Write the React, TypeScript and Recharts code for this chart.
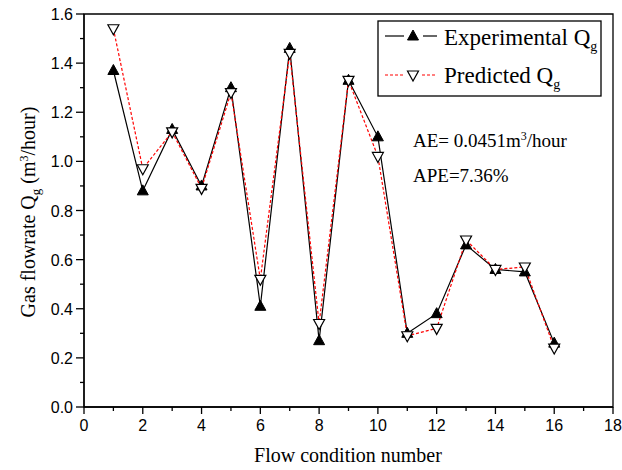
import React from 'react';
import { LineChart, Line, XAxis, YAxis, ReferenceArea } from 'recharts';

// values
const flowCondition = [1, 2, 3, 4, 5, 6, 7, 8, 9, 10, 11, 12, 13, 14, 15, 16];
const experimentalQg = [1.37, 0.88, 1.13, 0.9, 1.3, 0.41, 1.46, 0.27, 1.33, 1.1, 0.3, 0.38, 0.66, 0.56, 0.55, 0.26];
const predictedQg = [1.54, 0.97, 1.12, 0.89, 1.28, 0.52, 1.44, 0.34, 1.33, 1.02, 0.29, 0.32, 0.68, 0.56, 0.57, 0.24];

// labelled ticks and the unlabelled minor ticks between them
const xMajorTicks = [0, 2, 4, 6, 8, 10, 12, 14, 16, 18];
const xMinorTicks = [1, 3, 5, 7, 9, 11, 13, 15, 17];
const yMajorTicks = [0, 0.2, 0.4, 0.6, 0.8, 1.0, 1.2, 1.4, 1.6];
const yMinorTicks = [0.1, 0.3, 0.5, 0.7, 0.9, 1.1, 1.3, 1.5];

const data = flowCondition.map((n, i) => ({
  n,
  exp: experimentalQg[i],
  pred: predictedQg[i],
}));

const SERIF = '"Liberation Serif", "Times New Roman", serif';
const SANS = '"Liberation Sans", Arial, sans-serif';
const axisStyle = { stroke: '#000', strokeWidth: 1.3 };

const isIn = (arr: number[], v: number) => arr.some(a => Math.abs(a - v) < 1e-6);

// tickSize/tickMargin are 0, so x/y arrive on the axis line itself
const XTick = (p: any) => {
  const major = isIn(xMajorTicks, p.payload.value);
  return (
    <g>
      <line x1={p.x} y1={p.y} x2={p.x} y2={p.y + (major ? 7 : 4)} stroke="#000" strokeWidth={1.3} />
      {major && (
        <text x={p.x} y={p.y + 24} textAnchor="middle" fontFamily={SANS} fontSize={16} fill="#000">
          {p.payload.value}
        </text>
      )}
    </g>
  );
};

const YTick = (p: any) => {
  const major = isIn(yMajorTicks, p.payload.value);
  return (
    <g>
      <line x1={p.x} y1={p.y} x2={p.x - (major ? 8 : 4)} y2={p.y} stroke="#000" strokeWidth={1.3} />
      {major && (
        <text x={p.x - 11} y={p.y + 6} textAnchor="end" fontFamily={SANS} fontSize={16} fill="#000">
          {Number(p.payload.value).toFixed(1)}
        </text>
      )}
    </g>
  );
};

const TriUp = ({ cx, cy }: { cx: number; cy: number }) => (
  <polygon points={`${cx},${cy - 6} ${cx - 5.5},${cy + 4} ${cx + 5.5},${cy + 4}`} fill="#000" stroke="#000" strokeWidth={1} />
);

const TriDown = ({ cx, cy }: { cx: number; cy: number }) => (
  <polygon points={`${cx - 5.5},${cy - 4} ${cx + 5.5},${cy - 4} ${cx},${cy + 6}`} fill="#fff" stroke="#000" strokeWidth={1.2} />
);

const App: React.FC = () => {
  return (
    <div style={{ position: 'absolute', left: 0, top: 0, width: 622, height: 470, background: '#fff' }}>
      <LineChart width={622} height={470} data={data} margin={{ top: 14, right: 9, left: 0, bottom: 0 }}>
        <XAxis
          dataKey="n"
          type="number"
          domain={[0, 18]}
          ticks={[...xMajorTicks, ...xMinorTicks].sort((a, b) => a - b)}
          interval={0}
          height={63}
          tickSize={0}
          tickMargin={0}
          tickLine={false}
          tick={XTick}
          axisLine={axisStyle}
        />
        <YAxis
          domain={[0, 1.6]}
          ticks={[...yMajorTicks, ...yMinorTicks].sort((a, b) => a - b)}
          interval={0}
          width={84}
          tickSize={0}
          tickMargin={0}
          tickLine={false}
          tick={YTick}
          axisLine={axisStyle}
        />
        <ReferenceArea x1={0} x2={18} y1={0} y2={1.6} fill="none" fillOpacity={0} stroke="#000" strokeWidth={1.3} />
        <Line
          dataKey="exp"
          stroke="#000"
          strokeWidth={1.2}
          isAnimationActive={false}
          dot={(p: any) => <TriUp key={`e${p.index}`} cx={p.cx} cy={p.cy} />}
        />
        <Line
          dataKey="pred"
          stroke="#ff0000"
          strokeWidth={1.2}
          strokeDasharray="3 2"
          isAnimationActive={false}
          dot={(p: any) => <TriDown key={`p${p.index}`} cx={p.cx} cy={p.cy} />}
        />
      </LineChart>
      <svg width={622} height={470} style={{ position: 'absolute', left: 0, top: 0, pointerEvents: 'none' }}>
        {/* axis titles */}
        <text x={348} y={462} textAnchor="middle" fontFamily={SERIF} fontSize={20} fill="#000">
          Flow condition number
        </text>
        <text transform="translate(35,212) rotate(-90)" textAnchor="middle" fontFamily={SERIF} fontSize={20} fill="#000">
          Gas flowrate Q<tspan fontSize={13} dy={5}>g</tspan>
          <tspan dy={-5}> (m</tspan>
          <tspan fontSize={12} dy={-7}>3</tspan>
          <tspan dy={7}>/hour)</tspan>
        </text>
        {/* legend */}
        <rect x={378} y={21} width={223} height={75} fill="#fff" stroke="#000" strokeWidth={1.3} />
        <line x1={385} y1={36} x2={404} y2={36} stroke="#000" strokeWidth={1.2} />
        <line x1={423} y1={36} x2={437} y2={36} stroke="#000" strokeWidth={1.2} />
        <TriUp cx={413} cy={36} />
        <text x={444} y={45} fontFamily={SERIF} fontSize={23} fill="#000">
          Experimental Q<tspan fontSize={14} dy={6}>g</tspan>
        </text>
        <line x1={385} y1={75} x2={404} y2={75} stroke="#ff0000" strokeWidth={1.2} strokeDasharray="3 2" />
        <line x1={422} y1={75} x2={437} y2={75} stroke="#ff0000" strokeWidth={1.2} strokeDasharray="3 2" />
        <TriDown cx={413} cy={75} />
        <text x={444} y={83} fontFamily={SERIF} fontSize={23} fill="#000">
          Predicted Q<tspan fontSize={14} dy={6}>g</tspan>
        </text>
        {/* error annotations */}
        <text x={413} y={147} fontFamily={SERIF} fontSize={19} fill="#000">
          AE= 0.0451m<tspan fontSize={12} dy={-7}>3</tspan>
          <tspan dy={7}>/hour</tspan>
        </text>
        <text x={413} y={182} fontFamily={SERIF} fontSize={19} fill="#000">
          APE=7.36%
        </text>
      </svg>
    </div>
  );
};

export default App;
